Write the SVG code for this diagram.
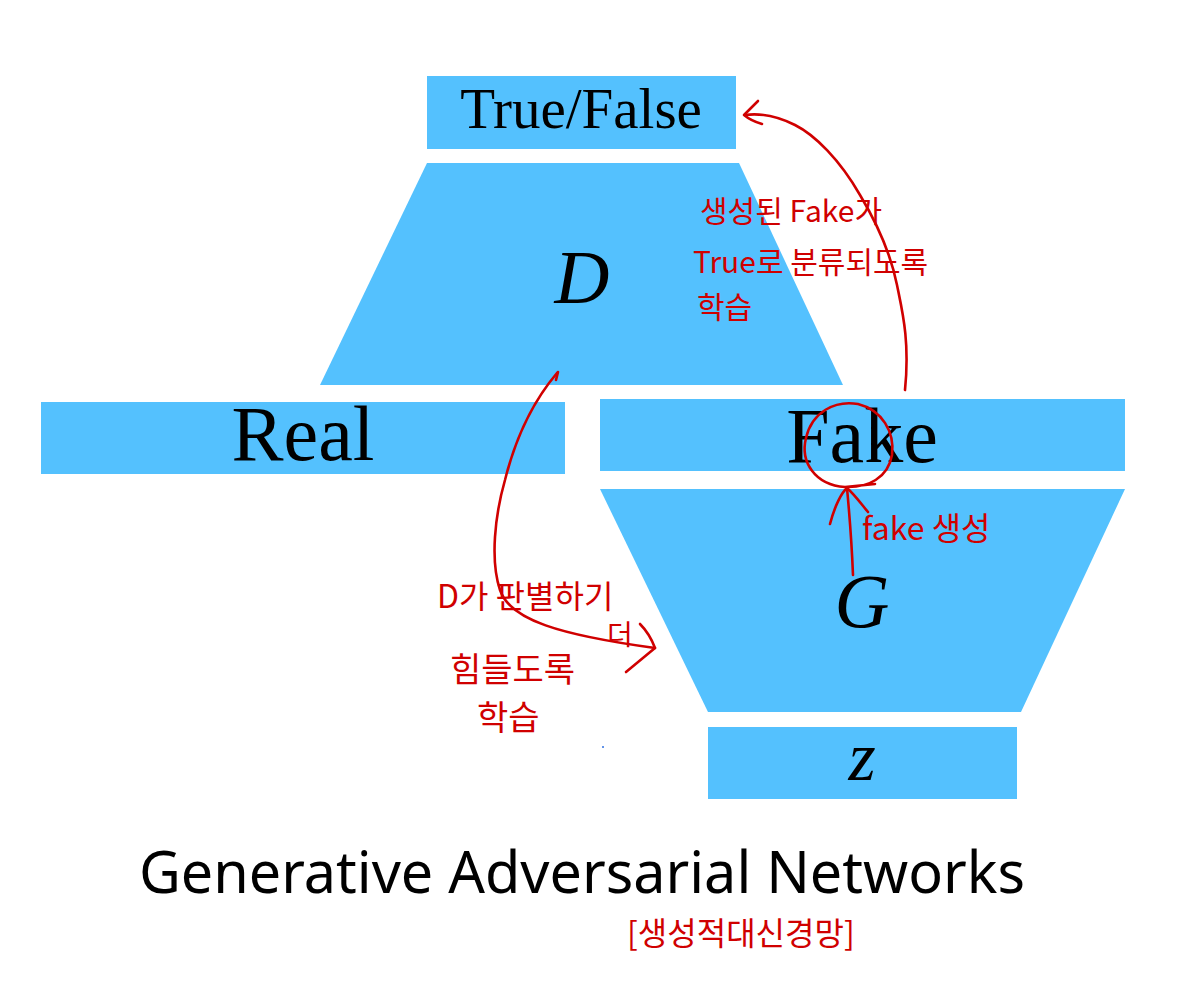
<svg xmlns="http://www.w3.org/2000/svg" width="1198" height="1000" viewBox="0 0 1198 1000">
<style>
.blk{fill:#54c1fe}
.serif{font-family:"Liberation Serif","DejaVu Serif",serif;fill:#000;text-anchor:middle}
.it{font-style:italic}
.title{font-family:"Noto Sans","Open Sans",sans-serif;font-size:57.5px;fill:#000;text-anchor:middle}
.hw{font-family:"Noto Sans CJK KR","Noto Sans",sans-serif;fill:#d00000}
.ink{fill:none;stroke:#d00000;stroke-width:2.6;stroke-linecap:round;stroke-linejoin:round}
</style>
<rect width="1198" height="1000" fill="#fff"/>
<g id="truefalse"><rect class="blk" x="427" y="76" width="309" height="73"/><text class="serif" x="581" y="128" font-size="57">True/False</text></g>
<g id="D"><polygon class="blk" points="427,163 739,163 843,385 320,385"/><text class="serif it" x="582" y="303" font-size="76">D</text></g>
<g id="real"><rect class="blk" x="41" y="402" width="524" height="72"/><text class="serif" x="303" y="460" font-size="78">Real</text></g>
<g id="fake"><rect class="blk" x="600" y="399" width="525" height="72"/><text class="serif" x="862" y="462" font-size="78">Fake</text></g>
<g id="G"><polygon class="blk" points="600,489 1125,489 1021,712 708,712"/><text class="serif it" x="862" y="627" font-size="76">G</text></g>
<g id="z"><rect class="blk" x="708" y="727" width="309" height="72"/><text class="serif it" x="862" y="780" font-size="70">z</text></g>
<circle cx="603" cy="747" r="1" fill="#3070e0"/>
<text class="title" x="582" y="893">Generative Adversarial Networks</text>
<g id="connectors">
<path class="ink" d="M905,390 C910,340 902,310 897,285 C890,250 875,220 860,195 C840,160 815,135 795,125 C775,115 760,113 745,115"/>
<path class="ink" d="M758,101 L744,115 C750,120 755,122 762,124"/>
<path class="ink" d="M557,373 C530,405 515,440 505,480 C495,515 490,560 500,590 C510,620 560,635 655,648"/>
<path class="ink" d="M558,372 L556,380"/>
<path class="ink" d="M640,624 C648,632 652,640 655,648 L626,672"/>
<path class="ink" d="M853,575 C852,550 850,520 847,488"/>
<path class="ink" d="M830,524 C835,505 842,492 847,488 C855,495 862,505 868,512"/>
<path class="ink" d="M845,487 C815,485 800,462 806,438 C812,412 835,400 858,404 C882,410 895,432 892,455 C888,478 868,488 845,487 L875,484"/>
</g>
<g id="notes">
<text class="hw" x="700" y="222" font-size="30">생성된 Fake가</text>
<text class="hw" x="693" y="273" font-size="30">True로 분류되도록</text>
<text class="hw" x="697" y="318" font-size="30">학습</text>
<text class="hw" x="862" y="540" font-size="32">fake 생성</text>
<text class="hw" x="437" y="608" font-size="32">D가 판별하기</text>
<text class="hw" x="607" y="645" font-size="28">더</text>
<text class="hw" x="450" y="682" font-size="34">힘들도록</text>
<text class="hw" x="477" y="730" font-size="34">학습</text>
<text class="hw" x="627" y="945" font-size="32">[생성적대신경망]</text>
</g>
</svg>
